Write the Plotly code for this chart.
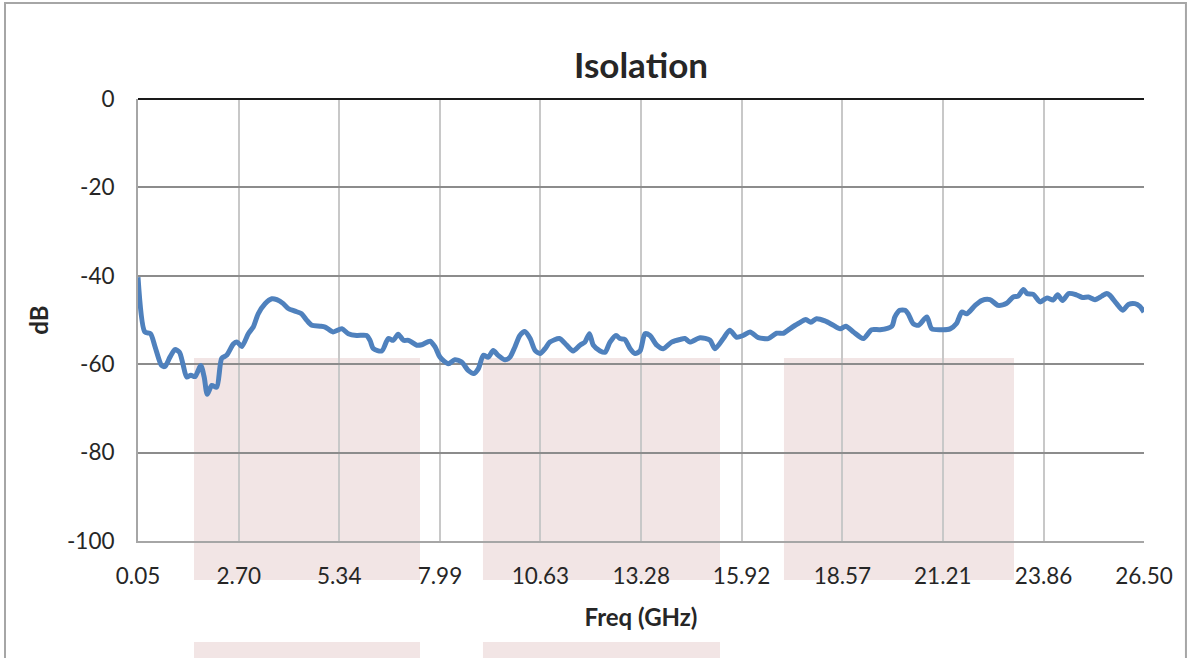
import plotly.graph_objects as go

freq_ghz = [0.05, 0.23, 0.38, 0.50, 0.67, 0.76, 0.89, 1.02, 1.14, 1.23, 1.33, 1.44, 1.55, 1.70, 1.79,
            1.87, 1.99, 2.12, 2.25, 2.38, 2.56, 2.66, 2.78, 2.95, 3.08, 3.21, 3.39, 3.57, 3.70, 3.87,
            4.00, 4.18, 4.35, 4.49, 4.62, 4.84, 4.97, 5.18, 5.41, 5.58, 5.80, 6.06, 6.15, 6.24, 6.46,
            6.63, 6.76, 6.89, 7.03, 7.16, 7.38, 7.51, 7.73, 7.86, 7.99, 8.21, 8.38, 8.56, 8.73, 8.88,
            9.00, 9.13, 9.26, 9.39, 9.52, 9.70, 9.83, 9.96, 10.09, 10.22, 10.36, 10.49, 10.62, 10.75,
            10.88, 11.13, 11.32, 11.49, 11.67, 11.80, 11.92, 12.02, 12.20, 12.33, 12.46, 12.62, 12.72,
            12.85, 12.99, 13.12, 13.25, 13.38, 13.51, 13.69, 13.86, 14.08, 14.30, 14.43, 14.56, 14.83,
            15.09, 15.22, 15.44, 15.61, 15.79, 15.96, 16.14, 16.36, 16.62, 16.84, 17.02, 17.19, 17.41,
            17.61, 17.74, 17.89, 18.11, 18.33, 18.51, 18.66, 18.86, 19.12, 19.34, 19.56, 19.87, 19.95,
            20.08, 20.22, 20.30, 20.43, 20.57, 20.79, 20.92, 21.22, 21.40, 21.57, 21.71, 21.84, 22.06,
            22.23, 22.45, 22.67, 22.89, 23.06, 23.19, 23.33, 23.42, 23.59, 23.77, 23.95, 24.11, 24.23,
            24.36, 24.52, 24.72, 24.88, 25.04, 25.21, 25.39, 25.52, 25.60, 25.78, 25.94, 26.09, 26.26,
            26.39, 26.50]

isolation_db = [-40.3, -52.7, -53.1, -56.1, -60.3, -60.5, -58.4, -56.7, -57.3, -59.9, -62.9, -62.5, -62.8, -60.3, -62.9,
                -66.8, -64.8, -65.2, -58.7, -58.0, -55.4, -55.0, -56.0, -53.1, -51.6, -48.6, -46.3, -45.2, -45.4, -46.3,
                -47.4, -48.0, -48.6, -50.1, -51.2, -51.4, -51.6, -52.7, -52.0, -53.1, -53.5, -53.5, -54.6, -56.5, -57.0,
                -54.2, -54.6, -53.2, -54.6, -54.6, -55.7, -55.6, -54.8, -56.1, -58.4, -59.9, -59.0, -59.5, -61.4, -62.1,
                -61.0, -58.0, -58.4, -56.9, -58.0, -59.0, -58.4, -56.1, -53.5, -52.6, -54.2, -56.9, -57.6, -56.5,
                -55.0, -54.2, -55.7, -57.0, -55.7, -55.0, -53.1, -55.7, -57.0, -57.3, -55.0, -53.5, -54.2,
                -54.4, -56.5, -57.6, -57.0, -53.1, -53.5, -55.7, -56.5, -55.0, -54.4, -54.2, -55.0, -54.0,
                -54.6, -56.5, -54.2, -52.3, -53.9, -53.5, -52.7, -54.0, -54.2, -53.0, -53.0, -52.0, -50.8,
                -49.9, -50.5, -49.7, -50.2, -51.2, -52.0, -51.4, -52.7, -54.2, -52.2, -52.2, -51.4, -49.3,
                -47.8, -47.8, -48.6, -50.8, -51.2, -49.3, -52.0, -52.2, -52.0, -50.8, -48.2, -48.6, -46.7,
                -45.6, -45.4, -46.7, -46.2, -44.8, -44.6, -43.1, -44.0, -44.2, -45.9, -45.0, -45.5, -44.3,
                -45.6, -44.0, -44.3, -44.9, -44.8, -45.4, -44.6, -44.0, -44.4, -46.3, -47.8, -46.5, -46.3,
                -46.9, -48.2]

x_tick_labels = ["0.05", "2.70", "5.34", "7.99", "10.63", "13.28", "15.92", "18.57", "21.21", "23.86", "26.50"]
y_tick_values = [0, -20, -40, -60, -80, -100]

FONT = "Lato, 'Open Sans', sans-serif"
TEXT = "#262626"

fig = go.Figure()
fig.add_trace(go.Scatter(
    x=freq_ghz, y=isolation_db, mode="lines",
    line=dict(color="#4f81bd", width=5, shape="spline", smoothing=0.7),
    showlegend=False, name="Isolation",
))

pink = "#f2e5e5"
shapes = []
# shaded bands (behind the chart grid)
for x0, x1 in [(0.0557, 0.2803), (0.3429, 0.5785), (0.6421, 0.8708)]:
    shapes.append(dict(type="rect", xref="paper", yref="paper", x0=x0, x1=x1, y0=-0.0882, y1=0.414,
                       fillcolor=pink, line=dict(width=0), layer="below"))
for x0, x1 in [(0.0557, 0.2803), (0.3429, 0.5785)]:
    shapes.append(dict(type="rect", xref="paper", yref="paper", x0=x0, x1=x1, y0=-0.35, y1=-0.2285,
                       fillcolor=pink, line=dict(width=0), layer="below"))
# outer chart border
shapes.append(dict(type="rect", xref="paper", yref="paper", x0=-0.1322, x1=1.0417, y0=-0.4, y1=1.2172,
                   fillcolor="rgba(0,0,0,0)", line=dict(color="#a6a6a6", width=2), layer="below"))

fig.update_layout(
    width=1194, height=658,
    margin=dict(l=138, r=50, t=99, b=117),
    paper_bgcolor="white", plot_bgcolor="rgba(0,0,0,0)",
    font=dict(family=FONT, color=TEXT, size=22),
    title=dict(text="<b>Isolation</b>", x=0.5, xref="paper", xanchor="center",
               y=0.9, yref="container", yanchor="middle",
               font=dict(family=FONT, size=35, color=TEXT)),
    shapes=shapes,
    xaxis=dict(
        range=[0.05, 26.5], tickmode="array",
        tickvals=[float(t) for t in x_tick_labels], ticktext=x_tick_labels,
        showgrid=True, gridcolor="#c8c8c8", gridwidth=1.5,
        showline=True, linecolor="#a6a6a6", linewidth=2,
        zeroline=False, ticks="", ticklabelstandoff=14,
        tickfont=dict(family=FONT, size=22.5, color=TEXT),
        title=dict(text="<b>Freq (GHz)</b>", standoff=21,
                   font=dict(family=FONT, size=24, color=TEXT)),
    ),
    yaxis=dict(
        range=[-100, 0], tickmode="array", tickvals=y_tick_values,
        ticktext=[str(v) for v in y_tick_values],
        showgrid=True, gridcolor="#8c8c8c", gridwidth=1.5,
        showline=True, linecolor="#a6a6a6", linewidth=2,
        zeroline=True, zerolinecolor="#1a1a1a", zerolinewidth=2,
        ticks="", ticklabelstandoff=17,
        tickfont=dict(family=FONT, size=22.5, color=TEXT),
        title=dict(text="<b>dB</b>", standoff=12,
                   font=dict(family=FONT, size=24, color=TEXT)),
    ),
)

fig.write_html("out.html", config={"displayModeBar": False},
               post_script="document.body.style.margin='0';document.body.style.padding='0';")
